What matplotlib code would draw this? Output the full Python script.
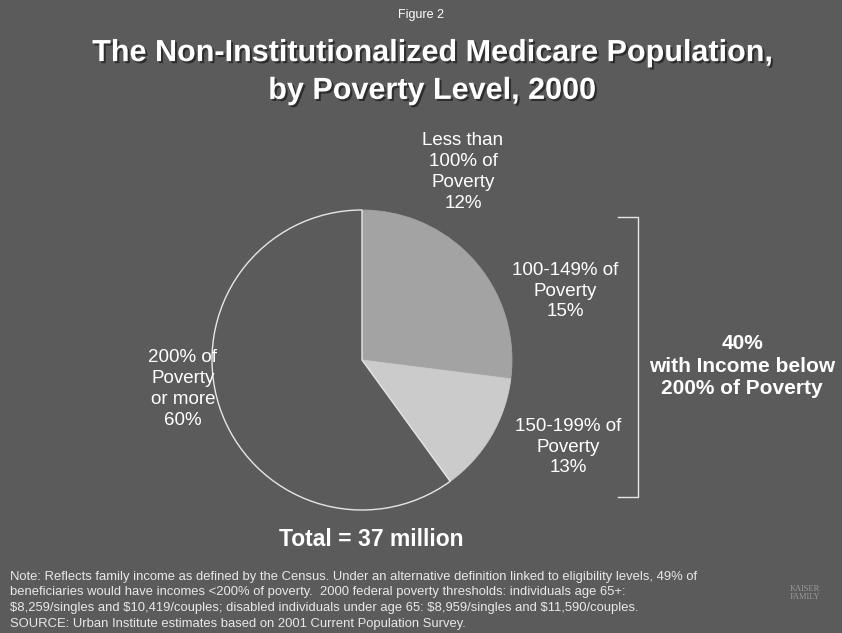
import matplotlib
matplotlib.use('Agg')  # noqa
import matplotlib.pyplot as plt
import matplotlib.patheffects as pe

W, H = 842, 633

groups = ['Less than\n100% of\nPoverty', '100-149% of\nPoverty',
          '150-199% of\nPoverty', '200% of\nPoverty\nor more']
shares = [12, 15, 13, 60]
slice_colors = ['#a3a3a3', '#a3a3a3', '#cbcbcb', '#5b5b5b']
below_200 = 40
total_millions = 37

notes = [
    'Note: Reflects family income as defined by the Census. Under an alternative definition linked to eligibility levels, 49% of',
    'beneficiaries would have incomes <200% of poverty.  2000 federal poverty thresholds: individuals age 65+:',
    '$8,259/singles and $10,419/couples; disabled individuals under age 65: $8,959/singles and $11,590/couples.',
    'SOURCE: Urban Institute estimates based on 2001 Current Population Survey.',
]

BG = '#5b5b5b'
SANS = ['Liberation Sans', 'DejaVu Sans']
NARROW = ['Liberation Sans Narrow', 'Liberation Sans', 'DejaVu Sans']


def Y(y):
    # slide coordinates are measured from the top
    return H - y


fig = plt.figure(figsize=(W / 100, H / 100), dpi=100, facecolor=BG)
ax = fig.add_axes([0, 0, 1, 1])
ax.set_aspect('equal')
ax.axis('off')
ax.set_facecolor(BG)

shadow = [pe.withSimplePatchShadow(offset=(1.5, -1.5), shadow_rgbFace='#222222', alpha=0.8)]

ax.text(W / 2, Y(15), 'Figure 2', color='white', fontsize=9, family=NARROW,
        ha='center', va='center')
ax.text(432, Y(72), 'The Non-Institutionalized Medicare Population,\nby Poverty Level, 2000',
        color='white', fontsize=22, fontweight='bold', family=NARROW,
        ha='center', va='center', linespacing=1.34, path_effects=shadow)

wedges, _ = ax.pie(shares, colors=slice_colors, startangle=90, counterclock=False,
                   center=(362, Y(360)), radius=150,
                   wedgeprops=dict(linewidth=0.6))
for w, c in zip(wedges, slice_colors):
    w.set_edgecolor(c)
wedges[3].set_edgecolor('#e6e6e6')
wedges[3].set_linewidth(1.0)
ax.set_xlim(0, W)
ax.set_ylim(0, H)

label_pos = [(463, 172), (565, 291), (568, 447), (183, 389)]
for name, val, (lx, ly) in zip(groups, shares, label_pos):
    ax.text(lx, Y(ly), f'{name}\n{val}%', color='white', fontsize=13.5,
            family=SANS, ha='center', va='center', linespacing=1.3)

# bracket around the three lower-income groups
ax.plot([618, 638, 638, 618], [Y(217), Y(217), Y(497), Y(497)],
        color='#e6e6e6', linewidth=1.0)
ax.text(742, Y(366), f'{below_200}%\nwith Income below\n200% of Poverty',
        color='white', fontsize=15, fontweight='bold', family=SANS,
        ha='center', va='center', linespacing=1.22)

ax.text(371, Y(540), f'Total = {total_millions} million', color='white',
        fontsize=16.5, fontweight='bold', family=SANS, ha='center', va='center')

for i, line in enumerate(notes):
    ax.text(10, Y(577 + i * 15.5), line, color='#e8e8e8', fontsize=9.4,
            family=SANS, ha='left', va='center', parse_math=False)

ax.text(805, Y(593), 'KAISER\nFAMILY', color='#9a9a9a', fontsize=6,
        family=['Liberation Serif', 'DejaVu Serif'], ha='center', va='center',
        linespacing=1.0)

fig.savefig('out.png', dpi=100, facecolor=BG)
